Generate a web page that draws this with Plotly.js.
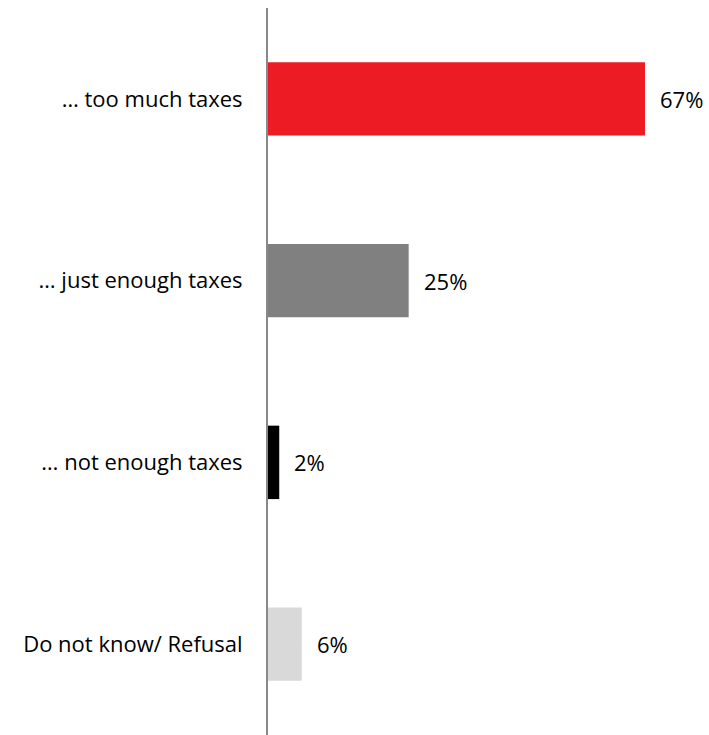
<!DOCTYPE html>
<html><head><meta charset="utf-8">
<script src="https://cdn.plot.ly/plotly-3.0.1.min.js"></script>
<style>html,body{margin:0;padding:0;background:#fff}</style>
</head><body>
<div id="chart" style="width:709px;height:735px"></div>
<script>
const categories = ["… too much taxes", "… just enough taxes", "… not enough taxes", "Do not know/ Refusal"];
const values = [67, 25, 2, 6];
const labels = ["67%", "25%", "2%", "6%"];
const colors = ["#ED1C24", "#808080", "#000000", "#D9D9D9"];

const FONT = "'Open Sans', sans-serif";

const trace = {
  type: "bar",
  orientation: "h",
  y: categories,
  x: values,
  marker: {color: colors, line: {width: 0}},
  width: 0.404,
  hoverinfo: "none"
};

const annotations = categories.map((c, i) => ({
  x: values[i], y: c, xref: "x", yref: "y",
  text: labels[i], showarrow: false, xanchor: "left", yanchor: "middle",
  xshift: 13, font: {family: FONT, size: 22, color: "#000"}
}));

const layout = {
  width: 709, height: 735,
  margin: {l: 268, r: 19, t: 8, b: 0},
  paper_bgcolor: "#fff", plot_bgcolor: "#fff",
  showlegend: false,
  xaxis: {range: [0, 75], visible: false, fixedrange: true},
  yaxis: {
    autorange: "reversed", showline: true, linecolor: "#898989", linewidth: 2,
    showgrid: false, zeroline: false, ticks: "", ticklabelstandoff: 19,
    tickfont: {family: FONT, size: 22, color: "#000"}
  },
  annotations: annotations
};

Plotly.newPlot("chart", [trace], layout, {displayModeBar: false, staticPlot: true});
</script>
</body></html>
